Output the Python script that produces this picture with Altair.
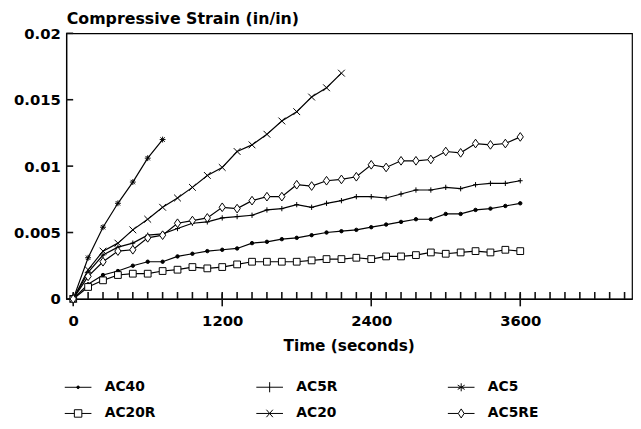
import altair as alt
import pandas as pd

# ---- data ----
times = [0, 120, 240, 360, 480, 600, 720, 840, 960, 1080, 1200, 1320, 1440, 1560, 1680,
         1800, 1920, 2040, 2160, 2280, 2400, 2520, 2640, 2760, 2880, 3000, 3120, 3240,
         3360, 3480, 3600]

ac40 = [0, 0.0011, 0.0018, 0.0021, 0.0025, 0.0028, 0.0028, 0.0032, 0.0034, 0.0036, 0.0037,
        0.0038, 0.0042, 0.0043, 0.0045, 0.0046, 0.0048, 0.0050, 0.0051, 0.0052, 0.0054,
        0.0056, 0.0058, 0.0060, 0.0060, 0.0064, 0.0064, 0.0067, 0.0068, 0.0070, 0.0072]

ac20r = [0, 0.0009, 0.0014, 0.0018, 0.0019, 0.0019, 0.0021, 0.0022, 0.0024, 0.0023, 0.0024,
         0.0026, 0.0028, 0.0028, 0.0028, 0.0028, 0.0029, 0.0030, 0.0030, 0.0031, 0.0030,
         0.0032, 0.0032, 0.0033, 0.0035, 0.0034, 0.0035, 0.0036, 0.0035, 0.0037, 0.0036]

ac5r = [0, 0.0020, 0.0033, 0.0039, 0.0042, 0.0048, 0.0049, 0.0053, 0.0057, 0.0058, 0.0061,
        0.0062, 0.0063, 0.0067, 0.0068, 0.0071, 0.0069, 0.0072, 0.0074, 0.0077, 0.0077,
        0.0076, 0.0079, 0.0082, 0.0082, 0.0084, 0.0083, 0.0086, 0.0087, 0.0087, 0.0089]

ac20 = [0, 0.0022, 0.0036, 0.0042, 0.0052, 0.0060, 0.0069, 0.0076, 0.0084, 0.0093, 0.0099,
        0.0111, 0.0116, 0.0124, 0.0134, 0.0141, 0.0152, 0.0159, 0.0170]

ac5 = [0, 0.0031, 0.0054, 0.0072, 0.0088, 0.0106, 0.0120]

ac5re = [0, 0.0017, 0.0028, 0.0036, 0.0037, 0.0046, 0.0048, 0.0057, 0.0059, 0.0061, 0.0069,
         0.0068, 0.0074, 0.0077, 0.0077, 0.0086, 0.0085, 0.0089, 0.0090, 0.0092, 0.0101,
         0.0099, 0.0104, 0.0104, 0.0105, 0.0111, 0.0110, 0.0117, 0.0116, 0.0117, 0.0122]

series_order = ["AC40", "AC5R", "AC5", "AC20R", "AC20", "AC5RE"]
series_values = {"AC40": ac40, "AC5R": ac5r, "AC5": ac5,
                 "AC20R": ac20r, "AC20": ac20, "AC5RE": ac5re}

x_major_ticks = [0, 1200, 2400, 3600]
x_minor_ticks = [0, 120, 240, 360, 480, 600, 720, 840, 960, 1080, 1200, 1320, 1440, 1560,
                 1680, 1800, 1920, 2040, 2160, 2280, 2400, 2520, 2640, 2760, 2880, 3000,
                 3120, 3240, 3360, 3480, 3600, 3720, 3840, 3960, 4080, 4200, 4320, 4440]
y_tick_values = [0, 0.005, 0.01, 0.015, 0.02]
x_domain = [-56, 4500]
y_domain = [0, 0.02]

rows = []
for name in series_order:
    for t, v in zip(times, series_values[name]):
        rows.append({"t": t, "v": v, "series": name})
df = pd.DataFrame(rows)

# ---- styles ----
FONT = "DejaVu Sans"
plot_shapes = [
    "circle",
    "M-1,0L1,0M0,-1.1L0,1.1",
    "M-1,0L1,0M0,-1L0,1M-0.75,-0.75L0.75,0.75M-0.75,0.75L0.75,-0.75",
    "square",
    "M-0.9,-0.9L0.9,0.9M-0.9,0.9L0.9,-0.9",
    "M-0.75,0L0,-1.05L0.75,0L0,1.05Z",
]
plot_fills = ["black", "white", "black", "white", "white", "white"]
plot_sizes = [12, 70, 64, 50, 64, 60]

legend_shapes = [
    "M-1,0L1,0M-0.1,0A0.1,0.1 0 1,0 0.1,0A0.1,0.1 0 1,0 -0.1,0Z",
    "M-1,0L1,0M0,-0.38L0,0.38",
    "M-1,0L1,0M0,-0.3L0,0.3M-0.26,-0.16L0.26,0.16M-0.26,0.16L0.26,-0.16",
    "M-1,0L-0.28,0M0.28,0L1,0M-0.28,-0.28L0.28,-0.28L0.28,0.28L-0.28,0.28Z",
    "M-1,0L1,0M-0.24,-0.28L0.24,0.28M-0.24,0.28L0.24,-0.28",
    "M-1,0L-0.22,0M0.22,0L1,0M-0.22,0L0,-0.34L0.22,0L0,0.34Z",
]
legend_strokes = ["black", "black", "black", "black", "black", "black"]

x_scale = alt.Scale(domain=x_domain, nice=False, zero=False)
y_scale = alt.Scale(domain=y_domain, nice=False, zero=False)

# main axes: labels and titles (ticks drawn by tick marks below)
x_axis = alt.Axis(
    orient="bottom", values=x_major_ticks, format="d", labelOverlap=False,
    labelFlush=False, grid=False, ticks=False, labelPadding=15,
    title="Time (seconds)", titleX=286, titleY=52, titleAlign="center",
    titleBaseline="alphabetic", titleFontSize=15.5,
)
y_axis = alt.Axis(
    orient="left", values=y_tick_values, format="~g", grid=False, ticks=False,
    labelPadding=6,
    title="Compressive Strain (in/in)", titleAngle=0, titleX=0, titleY=-10,
    titleAlign="left", titleBaseline="alphabetic", titleFontSize=16,
)

lines = alt.Chart(df).mark_line(color="black", strokeWidth=1.2).encode(
    x=alt.X("t:Q", scale=x_scale, axis=x_axis),
    y=alt.Y("v:Q", scale=y_scale, axis=y_axis),
    detail="series:N",
)

points = alt.Chart(df).mark_point(filled=True, stroke="black", strokeWidth=1, opacity=1).encode(
    x=alt.X("t:Q", axis=None),
    y=alt.Y("v:Q", axis=None),
    shape=alt.Shape("series:N", scale=alt.Scale(domain=series_order, range=plot_shapes), legend=None),
    fill=alt.Fill("series:N", scale=alt.Scale(domain=series_order, range=plot_fills), legend=None),
    size=alt.Size("series:N", scale=alt.Scale(domain=series_order, range=plot_sizes), legend=None),
)

# inward minor ticks on the time axis
x_minor = alt.Chart(pd.DataFrame({"t": x_minor_ticks})).mark_tick(
    orient="vertical", size=7, thickness=1.6, color="#111111", opacity=1
).encode(
    x=alt.X("t:Q", axis=None),
    y=alt.YDatum(y_domain[0], axis=None),
    yOffset=alt.value(-3.5),
)
# major ticks crossing the time axis
x_major = alt.Chart(pd.DataFrame({"t": x_major_ticks})).mark_tick(
    orient="vertical", size=13, thickness=1.6, color="#111111", opacity=1
).encode(
    x=alt.X("t:Q", axis=None),
    y=alt.YDatum(y_domain[0], axis=None),
    yOffset=alt.value(1),
)
# inward ticks on the strain axis
y_ticks = alt.Chart(pd.DataFrame({"v": y_tick_values})).mark_tick(
    orient="horizontal", size=7, thickness=1.6, color="#111111", opacity=1
).encode(
    y=alt.Y("v:Q", axis=None),
    x=alt.XDatum(x_domain[0], axis=None),
    xOffset=alt.value(3.5),
)

legend_def = alt.Legend(
    title=None, orient="none", legendX=-2, legendY=344, columns=3, direction="horizontal",
    gridAlign="all", columnPadding=99, rowPadding=5, symbolSize=729, labelOffset=13,
    symbolStrokeWidth=1, labelFont=FONT, labelFontSize=14,
    labelFontWeight="bold", labelColor="black", padding=0,
)

legend_layer = alt.Chart(df).mark_point(
    filled=True, strokeWidth=1, opacity=1
).encode(
    x=alt.X("t:Q", axis=None),
    y=alt.Y("v:Q", axis=None),
    shape=alt.Shape("series:N", scale=alt.Scale(domain=series_order, range=legend_shapes), legend=legend_def),
    fill=alt.Fill("series:N", scale=alt.Scale(domain=series_order, range=plot_fills), legend=legend_def),
    stroke=alt.Stroke("series:N", scale=alt.Scale(domain=series_order, range=legend_strokes), legend=legend_def),
).transform_filter("datum.t < 0")

chart = alt.layer(lines, x_minor, x_major, y_ticks, points, legend_layer).resolve_scale(
    shape="independent", fill="independent", stroke="independent"
).resolve_axis(
    x="independent", y="independent"
).properties(
    width=573, height=269,
    padding={"left": 59, "top": 23, "right": 1, "bottom": 121},
    autosize=alt.AutoSizeParams(type="none"),
    background="white",
).configure_view(
    stroke="black", strokeWidth=1.2
).configure_axis(
    labelFont=FONT, labelFontSize=15, labelFontWeight="bold", labelColor="black",
    titleFont=FONT, titleFontSize=15, titleFontWeight="bold", titleColor="black",
    domainColor="black", tickColor="black", domainWidth=1.2, tickWidth=1,
)

chart.save("out.html", embed_options={"renderer": "svg", "actions": False})
